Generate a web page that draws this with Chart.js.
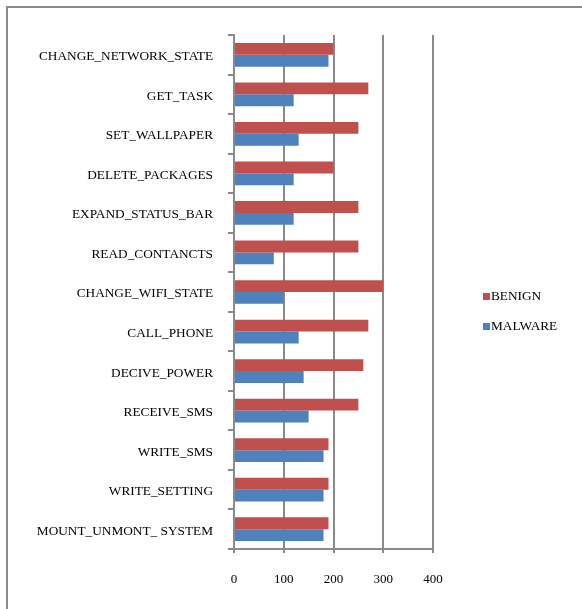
<!DOCTYPE html>
<html>
<head>
<meta charset="utf-8">
<script src="https://cdn.jsdelivr.net/npm/chart.js@4/dist/chart.umd.min.js"></script>
<style>
  html, body { margin: 0; padding: 0; background: #fff; }
  #wrap { position: relative; width: 582px; height: 609px; overflow: hidden; }
  #frame { position: absolute; left: 6px; top: 6px; width: 600px; height: 620px;
           border-top: 2px solid #8a8a8a; border-left: 2px solid #8a8a8a; }
  #grafica { position: absolute; left: 0; top: 0; }
</style>
</head>
<body>
<div id="wrap">
  <div id="frame"></div>
  <canvas id="grafica" width="582" height="609"></canvas>
</div>
<script>
const permisos = [
    'CHANGE_NETWORK_STATE', 'GET_TASK', 'SET_WALLPAPER', 'DELETE_PACKAGES',
    'EXPAND_STATUS_BAR', 'READ_CONTANCTS', 'CHANGE_WIFI_STATE', 'CALL_PHONE',
    'DECIVE_POWER', 'RECEIVE_SMS', 'WRITE_SMS', 'WRITE_SETTING', 'MOUNT_UNMONT_ SYSTEM'
];
const benign  = [200, 270, 250, 200, 250, 250, 300, 270, 260, 250, 190, 190, 190];
const malware = [190, 120, 130, 120, 120,  80, 100, 130, 140, 150, 180, 180, 180];
const ticksX = [0, 100, 200, 300, 400];

const fuente = 'Liberation Serif, Times New Roman, serif';
const gris = '#8a8a8a';

// leyenda dibujada a mano a la derecha del area del grafico
const leyenda = {
    id: 'leyenda',
    afterDraw(chart) {
        const { ctx, chartArea } = chart;
        const x = chartArea.right + 50;
        const yc = (chartArea.top + chartArea.bottom) / 2 + 5;
        ctx.save();
        ctx.font = '13.3px ' + fuente;
        ctx.textBaseline = 'middle';
        chart.data.datasets.forEach((ds, i) => {
            const y = yc + i * 30;
            ctx.fillStyle = ds.backgroundColor;
            ctx.fillRect(x, y - 4, 7, 7);
            ctx.fillStyle = '#000';
            ctx.fillText(ds.label, x + 8, y);
        });
        ctx.restore();
    }
};

const ctx = document.getElementById('grafica').getContext('2d');
const myChart = new Chart(ctx, {
    type: 'bar',
    data: {
        labels: permisos,
        datasets: [{
            label: 'BENIGN',
            data: benign,
            backgroundColor: '#C0504D'
        }, {
            label: 'MALWARE',
            data: malware,
            backgroundColor: '#4F81BD'
        }]
    },
    options: {
        indexAxis: 'y',
        responsive: false,
        animation: false,
        layout: {
            padding: { top: 35, right: 149, bottom: 0, left: 0 }
        },
        datasets: {
            bar: { categoryPercentage: 0.6, barPercentage: 1 }
        },
        scales: {
            x: {
                min: 0,
                max: 400,
                afterBuildTicks: scale => { scale.ticks = ticksX.map(v => ({ value: v })); },
                afterFit: scale => { scale.height = 60; },
                grid: { color: gris, lineWidth: 2, tickLength: 4 },
                border: { color: gris, width: 2 },
                ticks: { color: '#000', padding: 19, font: { family: fuente, size: 13 } }
            },
            y: {
                afterFit: scale => { scale.width = 234; },
                grid: { drawOnChartArea: false, color: gris, lineWidth: 2, tickLength: 6, offset: true },
                border: { color: gris, width: 2 },
                ticks: { color: '#000', padding: 15, labelOffset: 2, autoSkip: false, font: { family: fuente, size: 13.3 } }
            }
        },
        plugins: {
            legend: { display: false },
            tooltip: { enabled: false }
        }
    },
    plugins: [leyenda]
});
</script>
</body>
</html>
